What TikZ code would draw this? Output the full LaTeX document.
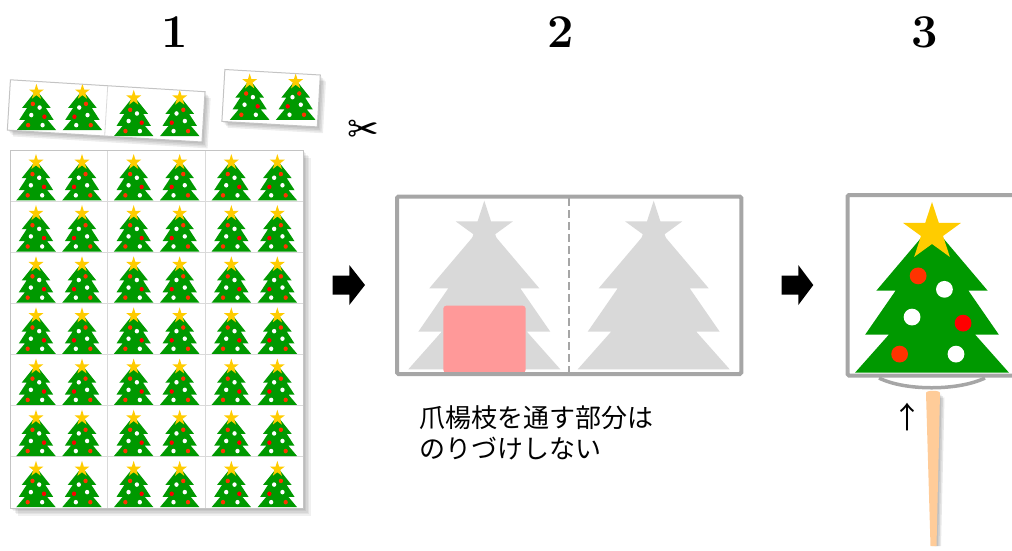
\documentclass[tikz,border=0pt]{standalone}
\usepackage{fontspec}
\newfontfamily\jp{Noto Sans CJK JP}
\newfontfamily\dejavu{DejaVu Sans}

\definecolor{treegreen}{HTML}{009900}
\definecolor{staryellow}{HTML}{FFCC00}
\definecolor{ornred}{HTML}{FF3300}
\definecolor{ornredb}{HTML}{FF0000}
\definecolor{framegray}{HTML}{A6A6A6}
\definecolor{silhouette}{HTML}{D9D9D9}
\definecolor{gluepink}{HTML}{FF9999}
\definecolor{pickwood}{HTML}{FFCC99}
\definecolor{sheetline}{HTML}{C4C4C4}
\definecolor{cellline}{HTML}{DADADA}

\tikzset{
  % decorated tree, origin at the top of the star, y grows downwards
  xtree/.pic={
    \fill[treegreen] (0,22.7) -- (-55,87.6) -- (-36,87.6) -- (-66,131) -- (-42.6,131)
      -- (-76,168.6) -- (76,168.6) -- (42.6,131) -- (66,131) -- (36,87.6) -- (55,87.6) -- cycle;
    \fill[ornred]  (-13.7,73)   circle (8.3);
    \fill[white]   (12.3,86.3)  circle (8.3);
    \fill[white]   (-19.7,113.7) circle (8.3);
    \fill[ornredb] (30.7,119.7) circle (8.3);
    \fill[ornred]  (-32,150.3)  circle (8.3);
    \fill[white]   (23.7,150.3) circle (8.3);
    \fill[staryellow] (0,0) -- (6.74,20.73) -- (28.53,20.73) -- (10.90,33.54) -- (17.63,54.27)
      -- (0,41.46) -- (-17.63,54.27) -- (-10.90,33.54) -- (-28.53,20.73) -- (-6.74,20.73) -- cycle;
  },
  % plain grey outline of the tree
  greytree/.pic={
    \fill[silhouette] (0,22.7) -- (-55,87.6) -- (-36,87.6) -- (-66,131) -- (-42.6,131)
      -- (-76,168.6) -- (76,168.6) -- (42.6,131) -- (66,131) -- (36,87.6) -- (55,87.6) -- cycle;
    \fill[silhouette] (0,0) -- (6.74,20.73) -- (28.53,20.73) -- (10.90,33.54) -- (17.63,54.27)
      -- (0,41.46) -- (-17.63,54.27) -- (-10.90,33.54) -- (-28.53,20.73) -- (-6.74,20.73) -- cycle;
  },
  % one sticker cell: two small trees, the second one mirrored
  cellpair/.pic={
    \pic[xscale=0.26,yscale=0.275] at (26,4) {xtree};
    \pic[xscale=-0.26,yscale=0.275] at (72,4) {xtree};
  },
  steplabel/.style={font=\bfseries\fontsize{47}{47}\selectfont, inner sep=0pt},
  blockarrow/.style={fill=black},
  cardframe/.style={draw=framegray, line width=4pt, rounded corners=1.5pt},
}

\begin{document}
\begin{tikzpicture}[x=1pt, y=-1pt]
  \clip (0,0) rectangle (1012,550);
  \path[use as bounding box] (0,0) rectangle (1012,550);

  % ---------- step numbers ----------
  \node[steplabel] (n1) at (175,32) {1};
  \node[steplabel] (n2) at (561,32) {2};
  \node[steplabel] (n3) at (925,32) {3};

  % ---------- sticker sheet ----------
  \foreach \s in {1.5,3,4.5,6,7.5}
    \fill[black, opacity=0.06] (10+\s,150+\s) rectangle (303+\s,508+\s);
  \fill[white] (10,150) rectangle (303,508);
  \foreach \c in {1,2}
    \draw[cellline, line width=0.8pt] (10+\c*97.67,150) -- (10+\c*97.67,508);
  \foreach \r in {1,...,6}
    \draw[cellline, line width=0.8pt] (10,150+\r*51.14) -- (303,150+\r*51.14);
  \foreach \c in {0,1,2}
    \foreach \r in {0,...,6}
      \pic at (10+\c*97.67,150+\r*51.14) {cellpair};
  \draw[sheetline, line width=1pt] (10,150) rectangle (303,508);

  % ---------- cut-off strips ----------
  \begin{scope}[shift={(106.2,110.9)}, rotate=-3.5]
    \foreach \s in {1.5,3,4.5,6}
      \fill[black, opacity=0.07] (-97.5+\s,-25.2+\s) rectangle (97.5+\s,25.2+\s);
    \fill[white] (-97.5,-25.2) rectangle (97.5,25.2);
    \pic at (-97.5,-25.2) {cellpair};
    \pic at (0,-25.2) {cellpair};
    \draw[cellline, line width=0.8pt] (0,-25.2) -- (0,25.2);
    \draw[sheetline, line width=1pt] (-97.5,-25.2) rectangle (97.5,25.2);
  \end{scope}
  \begin{scope}[shift={(271.1,98.2)}, rotate=-3.3]
    \foreach \s in {1.5,3,4.5,6}
      \fill[black, opacity=0.07] (-47.8+\s,-26+\s) rectangle (47.8+\s,26+\s);
    \fill[white] (-47.8,-26) rectangle (47.8,26);
    \pic at (-49,-26) {cellpair};
    \draw[sheetline, line width=1pt] (-47.8,-26) rectangle (47.8,26);
  \end{scope}

  \node[font=\dejavu\fontsize{38}{38}\selectfont, inner sep=0pt] (scissors) at (363,131) {✂};

  % ---------- arrows between steps ----------
  \fill[blockarrow] (332.7,275.5) -- (349.3,275.5) -- (349.3,265) -- (365,285)
    -- (349.3,305) -- (349.3,294.5) -- (332.7,294.5) -- cycle;
  \fill[blockarrow] (781.7,275.5) -- (798.3,275.5) -- (798.3,265) -- (813.3,285)
    -- (798.3,305) -- (798.3,294.5) -- (781.7,294.5) -- cycle;

  % ---------- step 2: folded card ----------
  \fill[white] (397,196.5) rectangle (741.3,374);
  \pic at (484.3,200.7) {greytree};
  \pic at (653.7,200.7) {greytree};
  \fill[gluepink, rounded corners=3pt] (443.3,305.7) rectangle (525.7,372.7);
  \draw[framegray, line width=2pt, dash pattern=on 8pt off 4pt] (569,198) -- (569,372);
  \draw[cardframe] (397,196.5) rectangle (741.3,374);

  \node[anchor=north west, inner sep=0pt, align=left,
        font=\jp\fontsize{26}{31}\selectfont] (note) at (419,405)
    {爪楊枝を通す部分は\\のりづけしない};

  % ---------- step 3: finished pick ----------
  \foreach \s in {1.5,3,4.5}
    \fill[black, opacity=0.09] (926+\s,393+\s) -- (940+\s,393+\s) -- (936.5+\s,546)
      -- (930.5+\s,546) -- cycle;
  \fill[pickwood] (926,393) .. controls (926,390) and (940,390) .. (940,393)
    -- (936.5,546) -- (930.5,546) -- cycle;
  \draw[framegray, line width=3.5pt] (879,378) .. controls (905,391) and (958,391) .. (985,378);
  \fill[white] (847.5,195) rectangle (1030,375.5);
  \pic[scale=1.012] at (932,202) {xtree};
  \draw[cardframe] (847.5,195) rectangle (1030,375.5);
  \node[font=\jp\fontsize{30}{30}\selectfont, inner sep=0pt] (uparrow) at (907,417) {↑};
\end{tikzpicture}
\end{document}
